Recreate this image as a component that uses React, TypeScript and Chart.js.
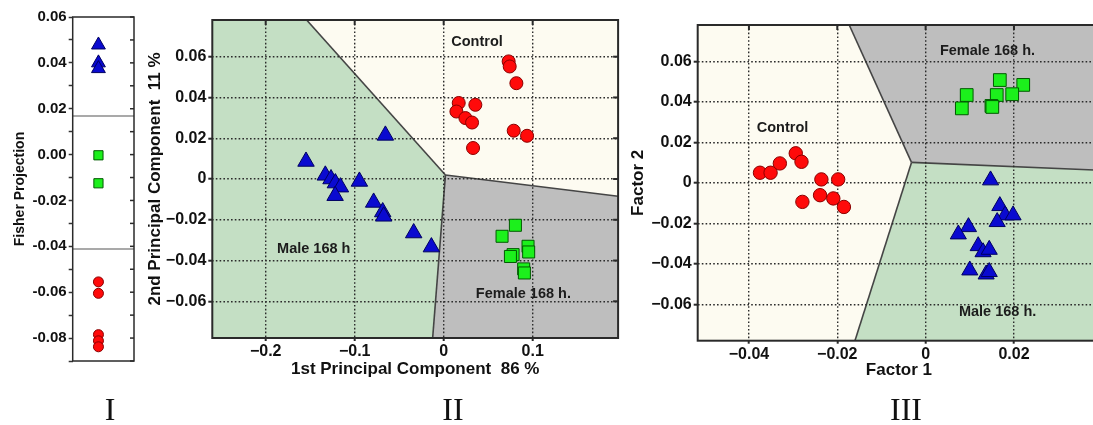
import React, { useEffect, useRef } from "react";
import { Chart, registerables } from "chart.js";

Chart.register(...registerables);

// ---------- Panel I : Fisher projection ----------
const fisherMale = [0.0478, 0.04, 0.0375];
const fisherFemale = [-0.0003, -0.0125];
const fisherControl = [-0.0555, -0.0605, -0.0785, -0.0812, -0.0838];
const fisherThresholds = [0.0168, -0.0412];
const fisherColumn = 0.42;

// ---------- Panel II : PCA ----------
const pcaMaleX = [-0.0655, -0.1547, -0.133, -0.1266, -0.1217, -0.116, -0.122, -0.0947, -0.0787, -0.0685, -0.0674, -0.0337, -0.0138];
const pcaMaleY = [0.0214, 0.0086, 0.0018, 0.0, -0.002, -0.004, -0.0082, -0.0012, -0.0115, -0.0162, -0.0183, -0.0265, -0.0334];
const pcaControlX = [0.073, 0.0742, 0.0817, 0.0169, 0.0356, 0.0143, 0.0244, 0.0319, 0.0787, 0.0937, 0.033];
const pcaControlY = [0.0577, 0.0552, 0.047, 0.0373, 0.0364, 0.0331, 0.0299, 0.0277, 0.0237, 0.0212, 0.0152];
const pcaFemaleX = [0.0806, 0.0656, 0.0948, 0.0955, 0.078, 0.075, 0.0899, 0.0907];
const pcaFemaleY = [-0.0227, -0.0281, -0.033, -0.0358, -0.0371, -0.038, -0.0441, -0.0461];
const pcaJunction: [number, number] = [0.002, 0.002];
const pcaMaleRegion: [number, number][] = [[-0.26, 0.078], [-0.154, 0.078], pcaJunction, [-0.0124, -0.078], [-0.26, -0.078]];
const pcaFemaleRegion: [number, number][] = [pcaJunction, [0.196, -0.0085], [0.196, -0.078], [-0.0124, -0.078]];
const pcaBoundaries: [number, number][][] = [
  [[-0.154, 0.078], pcaJunction],
  [pcaJunction, [-0.0124, -0.078]],
  [pcaJunction, [0.196, -0.0085]],
];
const pcaLabels = [
  { text: "Control", x: 0.0375, y: 0.067 },
  { text: "Male 168 h", x: -0.146, y: -0.0343 },
  { text: "Female 168 h.", x: 0.0896, y: -0.0563 },
];

// ---------- Panel III : Factor analysis ----------
const facControlX = [-0.0375, -0.0351, -0.033, -0.0294, -0.0281, -0.0236, -0.0198, -0.0239, -0.0209, -0.0185, -0.0279];
const facControlY = [0.005, 0.005, 0.0096, 0.0146, 0.0104, 0.0017, 0.0017, -0.0061, -0.0077, -0.0119, -0.0094];
const facFemaleX = [0.0168, 0.0221, 0.0093, 0.0161, 0.0196, 0.0082, 0.0149, 0.0151];
const facFemaleY = [0.0508, 0.0484, 0.0434, 0.0434, 0.0438, 0.0368, 0.038, 0.0375];
const facMaleX = [0.0147, 0.0168, 0.018, 0.0198, 0.0162, 0.0097, 0.0074, 0.0119, 0.013, 0.0144, 0.01, 0.0137, 0.0144];
const facMaleY = [0.0013, -0.0114, -0.016, -0.016, -0.0193, -0.0218, -0.0254, -0.0312, -0.0342, -0.033, -0.0432, -0.0452, -0.044];
const facJunction: [number, number] = [-0.0032, 0.0101];
const facFemaleRegion: [number, number][] = [[-0.0173, 0.078], facJunction, [0.0395, 0.0062], [0.0395, 0.078]];
const facMaleRegion: [number, number][] = [facJunction, [-0.016, -0.078], [0.0395, -0.078], [0.0395, 0.0062]];
const facBoundaries: [number, number][][] = [
  [[-0.0173, 0.078], facJunction],
  [facJunction, [-0.016, -0.078]],
  [facJunction, [0.0395, 0.0062]],
];
const facLabels = [
  { text: "Control", x: -0.0324, y: 0.0272 },
  { text: "Female 168 h.", x: 0.014, y: 0.0652 },
  { text: "Male 168 h.", x: 0.0163, y: -0.0637 },
];

const FONT = '"Liberation Sans", Arial, Helvetica, sans-serif';
const CREAM = "#fdfbf1";
const GREEN_REGION = "#c4dfc4";
const GREY_REGION = "#bebebe";
const RED = { bg: "#ff0a0a", bd: "#8a0000" };
const BLUE = { bg: "#0a0ad0", bd: "#000060" };
const GREEN = { bg: "#1cf01c", bd: "#005a00" };

const zip = (xs: number[], ys: number[]) => xs.map((x, i) => ({ x, y: ys[i] }));

type Decor = {
  background?: string;
  regions?: { pts: [number, number][]; color: string }[];
  boundaries?: [number, number][][];
  labels?: { text: string; x: number; y: number }[];
  hlines?: number[];
  frameWidth: number;
  topTicks?: boolean;
  rightTicks?: boolean;
  inTickLen?: number;
};

function makeDecor(cfg: Decor) {
  return {
    id: "decor",
    beforeDraw(chart: any) {
      const { ctx, chartArea: a, scales } = chart;
      const x = scales.x, y = scales.y;
      ctx.save();
      ctx.beginPath();
      ctx.rect(a.left, a.top, a.right - a.left, a.bottom - a.top);
      ctx.clip();
      if (cfg.background) {
        ctx.fillStyle = cfg.background;
        ctx.fillRect(a.left, a.top, a.right - a.left, a.bottom - a.top);
      }
      for (const r of cfg.regions || []) {
        ctx.beginPath();
        r.pts.forEach(([vx, vy], i) => {
          const px = x.getPixelForValue(vx), py = y.getPixelForValue(vy);
          if (i) ctx.lineTo(px, py); else ctx.moveTo(px, py);
        });
        ctx.closePath();
        ctx.fillStyle = r.color;
        ctx.fill();
      }
      ctx.strokeStyle = "#454545";
      ctx.lineWidth = 1.6;
      for (const seg of cfg.boundaries || []) {
        ctx.beginPath();
        seg.forEach(([vx, vy], i) => {
          const px = x.getPixelForValue(vx), py = y.getPixelForValue(vy);
          if (i) ctx.lineTo(px, py); else ctx.moveTo(px, py);
        });
        ctx.stroke();
      }
      ctx.restore();
    },
    beforeDatasetsDraw(chart: any) {
      const { ctx, chartArea: a, scales } = chart;
      const x = scales.x, y = scales.y;
      ctx.save();
      for (const h of cfg.hlines || []) {
        const py = y.getPixelForValue(h);
        ctx.strokeStyle = "#8c8c8c";
        ctx.lineWidth = 1.5;
        ctx.beginPath();
        ctx.moveTo(a.left, py);
        ctx.lineTo(a.right, py);
        ctx.stroke();
      }
      ctx.fillStyle = "#1c1c1c";
      ctx.font = `bold 14.5px ${FONT}`;
      ctx.textAlign = "center";
      ctx.textBaseline = "middle";
      for (const l of cfg.labels || []) {
        ctx.fillText(l.text, x.getPixelForValue(l.x), y.getPixelForValue(l.y));
      }
      ctx.restore();
    },
    afterDraw(chart: any) {
      const { ctx, chartArea: a, scales } = chart;
      const x = scales.x, y = scales.y;
      const L = cfg.inTickLen ?? 5;
      ctx.save();
      ctx.strokeStyle = "#2a2a2a";
      ctx.lineWidth = cfg.frameWidth;
      ctx.strokeRect(a.left, a.top, a.right - a.left, a.bottom - a.top);
      ctx.lineWidth = 2;
      if (cfg.topTicks) {
        for (const t of x.ticks) {
          const px = x.getPixelForValue(t.value);
          ctx.beginPath();
          ctx.moveTo(px, a.top);
          ctx.lineTo(px, a.top + L);
          ctx.stroke();
        }
      }
      if (cfg.rightTicks) {
        ctx.lineWidth = cfg.frameWidth;
        for (const t of y.ticks) {
          const py = y.getPixelForValue(t.value);
          ctx.beginPath();
          ctx.moveTo(a.right, py);
          ctx.lineTo(a.right - L, py);
          ctx.stroke();
        }
      }
      ctx.restore();
    },
  };
}

const minus = (s: string) => s.replace("-", "\u2212");
const fmtAxis = (digits: number) => (v: any) => {
  const n = Number(v);
  if (Math.abs(n) < 1e-9) return "0";
  return minus(n.toFixed(digits));
};

const tickFont = { family: FONT, size: 16, weight: "bold" as const };
const titleFont = { family: FONT, size: 17, weight: "bold" as const };

const noPad = (s: any) => {
  s.paddingLeft = 0;
  s.paddingRight = 0;
  s.paddingTop = 0;
  s.paddingBottom = 0;
};

function scatterSet(data: { x: number; y: number }[], style: string, c: { bg: string; bd: string }, r: number) {
  return {
    data,
    pointStyle: style,
    pointRadius: r,
    pointHoverRadius: r,
    backgroundColor: c.bg,
    borderColor: c.bd,
    borderWidth: 1,
    showLine: false,
  };
}

function fisherConfig(): any {
  return {
    type: "scatter",
    data: {
      datasets: [
        scatterSet(fisherMale.map((v) => ({ x: fisherColumn, y: v })), "triangle", BLUE, 8),
        scatterSet(fisherFemale.map((v) => ({ x: fisherColumn, y: v })), "rect", GREEN, 6.5),
        scatterSet(fisherControl.map((v) => ({ x: fisherColumn, y: v })), "circle", RED, 5),
      ],
    },
    options: {
      animation: false,
      responsive: false,
      events: [],
      layout: { autoPadding: false, padding: { left: 0, right: 16, top: 17, bottom: 64 } },
      plugins: { legend: { display: false }, tooltip: { enabled: false } },
      scales: {
        x: { type: "linear", min: 0, max: 1, display: false },
        y: {
          type: "linear",
          min: -0.09,
          max: 0.06,
          afterFit: (s: any) => { s.width = 72.7; noPad(s); },
          ticks: {
            stepSize: 0.01,
            autoSkip: false,
            includeBounds: false,
            padding: 2,
            color: "#111",
            font: { family: FONT, size: 15, weight: "bold" },
            callback: (v: any) => {
              const k = Math.round(Number(v) * 100);
              return k % 2 === 0 ? (k / 100).toFixed(2) : "";
            },
          },
          grid: { drawOnChartArea: false, drawTicks: true, tickLength: 4, tickColor: "#333", tickWidth: 1.5 },
          border: { display: false },
          title: {
            display: true,
            text: "Fisher Projection",
            color: "#111",
            font: { family: FONT, size: 14, weight: "bold" },
            padding: { top: 11.6, bottom: 0 },
          },
        },
      },
    },
    plugins: [makeDecor({ background: "#ffffff", hlines: fisherThresholds, frameWidth: 1.5, rightTicks: true, inTickLen: 4 })],
  };
}

function panelScales(o: {
  xmin: number; xmax: number; xstep: number; xdigits: number; xTitle: string; xHeight: number; xTitlePad: number;
  yWidth: number; yTitle: string; yTitlePad: number;
}) {
  const grid = { color: "#2b2b2b", lineWidth: 1.4, tickLength: 3, tickColor: "#2a2a2a", tickWidth: 2 };
  return {
    x: {
      type: "linear",
      min: o.xmin,
      max: o.xmax,
      afterFit: (s: any) => { s.height = o.xHeight; noPad(s); },
      ticks: { stepSize: o.xstep, includeBounds: false, autoSkip: false, maxRotation: 0, padding: 1, color: "#111", font: tickFont, callback: fmtAxis(o.xdigits) },
      grid,
      border: { display: false, dash: [1.6, 2.2] },
      title: { display: true, text: o.xTitle, color: "#111", font: titleFont, padding: { top: 0, bottom: o.xTitlePad } },
    },
    y: {
      type: "linear",
      min: -0.078,
      max: 0.078,
      afterFit: (s: any) => { s.width = o.yWidth; noPad(s); },
      ticks: { stepSize: 0.02, includeBounds: false, autoSkip: false, padding: 2, color: "#111", font: tickFont, callback: fmtAxis(2) },
      grid: { ...grid, tickLength: 4 },
      border: { display: false, dash: [1.6, 2.2] },
      title: { display: true, text: o.yTitle, color: "#111", font: titleFont, padding: { top: o.yTitlePad, bottom: 0 } },
    },
  };
}

function pcaConfig(): any {
  return {
    type: "scatter",
    data: {
      datasets: [
        scatterSet(zip(pcaFemaleX, pcaFemaleY), "rect", GREEN, 8.5),
        scatterSet(zip(pcaControlX, pcaControlY), "circle", RED, 6.5),
        scatterSet(zip(pcaMaleX, pcaMaleY), "triangle", BLUE, 9.5),
      ],
    },
    options: {
      animation: false,
      responsive: false,
      events: [],
      layout: { autoPadding: false, padding: { left: 0, right: 1.9, top: 20, bottom: 0 } },
      plugins: { legend: { display: false }, tooltip: { enabled: false } },
      scales: panelScales({
        xmin: -0.26, xmax: 0.196, xstep: 0.1, xdigits: 1, xTitle: "1st Principal Component  86 %", xHeight: 87, xTitlePad: 45.8,
        yWidth: 72.3, yTitle: "2nd Principal Component  11 %", yTitlePad: 4.8,
      }),
    },
    plugins: [makeDecor({
      background: CREAM,
      regions: [{ pts: pcaMaleRegion, color: GREEN_REGION }, { pts: pcaFemaleRegion, color: GREY_REGION }],
      boundaries: pcaBoundaries,
      labels: pcaLabels,
      frameWidth: 2,
      topTicks: true,
      rightTicks: true,
    })],
  };
}

function facConfig(): any {
  return {
    type: "scatter",
    data: {
      datasets: [
        scatterSet(zip(facFemaleX, facFemaleY), "rect", GREEN, 9),
        scatterSet(zip(facControlX, facControlY), "circle", RED, 6.7),
        scatterSet(zip(facMaleX, facMaleY), "triangle", BLUE, 9.3),
      ],
    },
    options: {
      animation: false,
      responsive: false,
      events: [],
      layout: { autoPadding: false, padding: { left: 0, right: 2.9, top: 25, bottom: 0 } },
      plugins: { legend: { display: false }, tooltip: { enabled: false } },
      scales: panelScales({
        xmin: -0.0516, xmax: 0.0395, xstep: 0.02, xdigits: 2, xTitle: "Factor 1", xHeight: 84.3, xTitlePad: 44.1,
        yWidth: 97.7, yTitle: "Factor 2", yTitlePad: 27.8,
      }),
    },
    plugins: [makeDecor({
      background: CREAM,
      regions: [{ pts: facFemaleRegion, color: GREY_REGION }, { pts: facMaleRegion, color: GREEN_REGION }],
      boundaries: facBoundaries,
      labels: facLabels,
      frameWidth: 2,
      topTicks: true,
      rightTicks: true,
    })],
  };
}

function Panel({ make, left, width }: { make: () => any; left: number; width: number }) {
  const ref = useRef<HTMLCanvasElement>(null);
  useEffect(() => {
    const chart = new Chart(ref.current as HTMLCanvasElement, make());
    return () => chart.destroy();
  }, []);
  return (
    <canvas
      ref={ref}
      width={width}
      height={425}
      style={{ position: "absolute", left, top: 0, width, height: 425 }}
    />
  );
}

const numeralStyle = (cx: number): React.CSSProperties => ({
  position: "absolute",
  left: cx - 60,
  width: 120,
  top: 393,
  textAlign: "center",
  fontFamily: '"Liberation Serif", "Times New Roman", serif',
  fontSize: 32,
  lineHeight: "32px",
  color: "#111",
});

export default function App() {
  return (
    <div style={{ position: "fixed", left: 0, top: 0, width: 1093, height: 425, overflow: "hidden", background: "#fff" }}>
      <Panel make={fisherConfig} left={0} width={150} />
      <Panel make={pcaConfig} left={140} width={480} />
      <Panel make={facConfig} left={600} width={503} />
      <div style={numeralStyle(110)}>I</div>
      <div style={numeralStyle(453)}>II</div>
      <div style={numeralStyle(906)}>III</div>
    </div>
  );
}
